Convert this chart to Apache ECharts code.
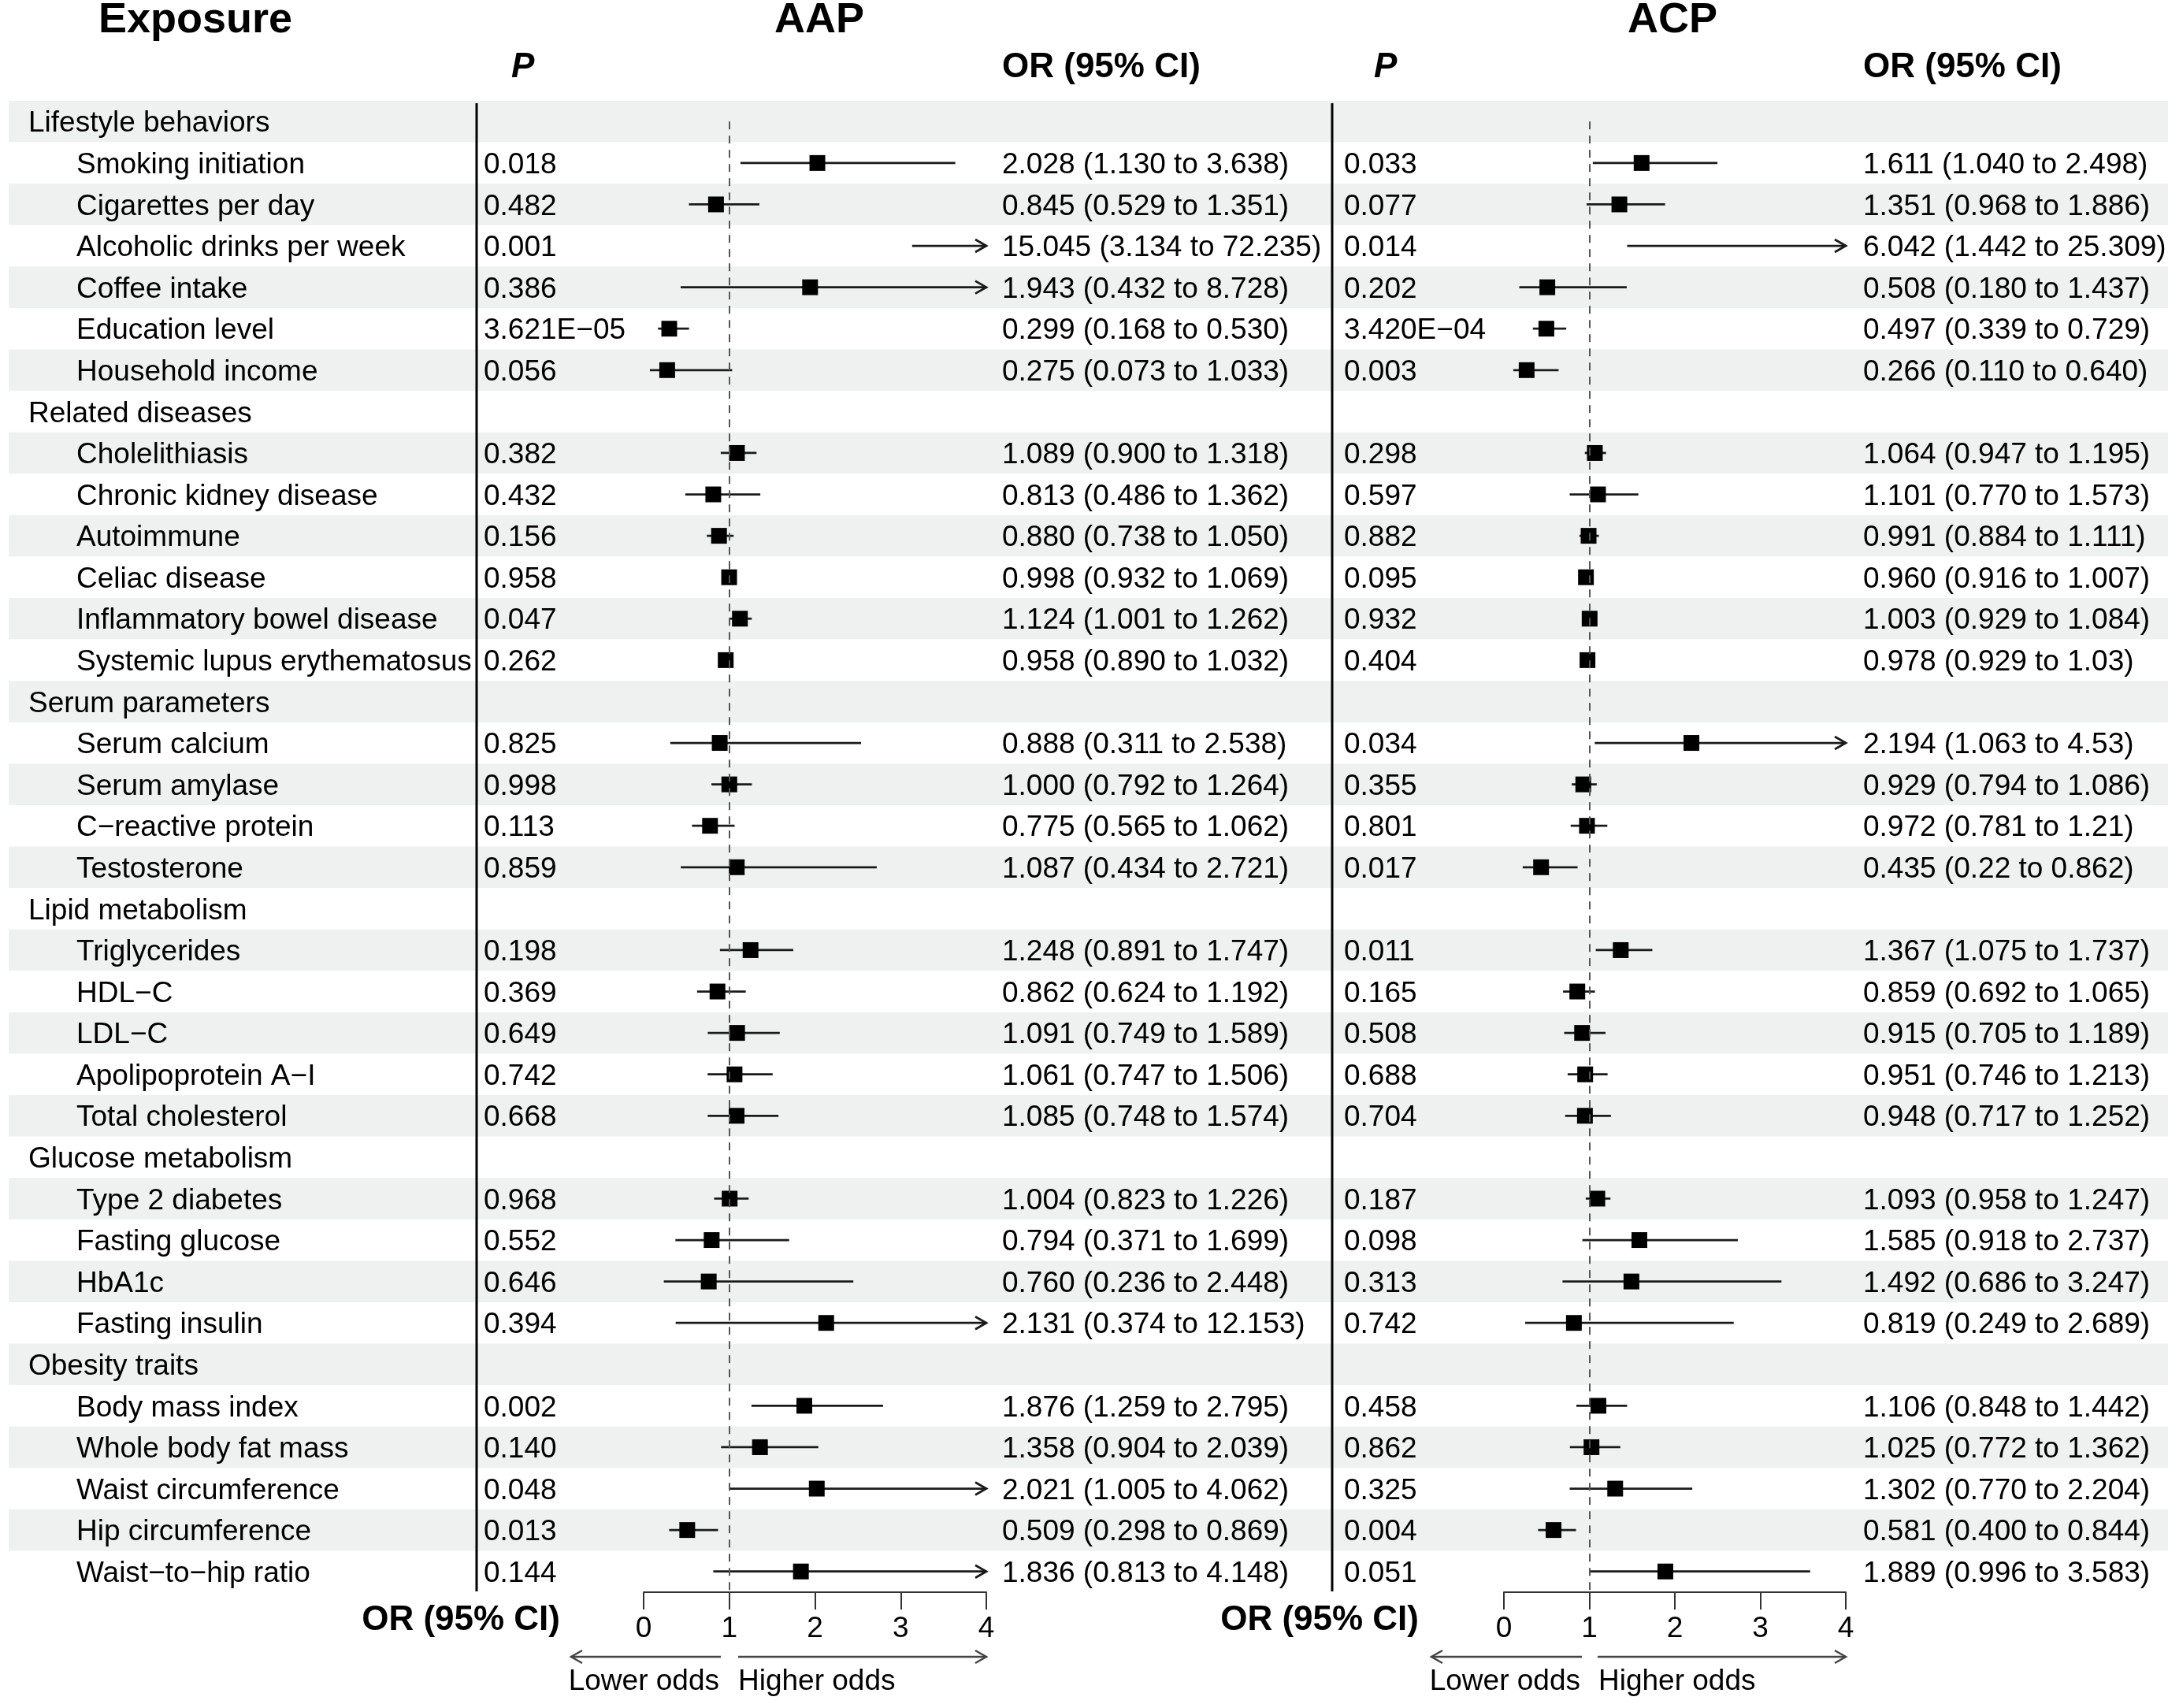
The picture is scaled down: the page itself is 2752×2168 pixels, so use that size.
<!DOCTYPE html>
<html>
<head>
<meta charset="utf-8">
<title>AAP / ACP forest plot</title>
<script src="https://cdn.jsdelivr.net/npm/echarts@6/dist/echarts.min.js"></script>
<style>
  html, body { margin: 0; padding: 0; background: #fff; }
  #chart { width: 2752px; height: 2168px; }
</style>
</head>
<body>
<div id="chart"></div>
<script>
// ---- data ----
const groups = [
  "Lifestyle behaviors", "Related diseases", "Serum parameters",
  "Lipid metabolism", "Glucose metabolism", "Obesity traits"
];
const groupItems = [
  ["Smoking initiation", "Cigarettes per day", "Alcoholic drinks per week", "Coffee intake", "Education level", "Household income"],
  ["Cholelithiasis", "Chronic kidney disease", "Autoimmune", "Celiac disease", "Inflammatory bowel disease", "Systemic lupus erythematosus"],
  ["Serum calcium", "Serum amylase", "C\u2212reactive protein", "Testosterone"],
  ["Triglycerides", "HDL\u2212C", "LDL\u2212C", "Apolipoprotein A\u2212I", "Total cholesterol"],
  ["Type 2 diabetes", "Fasting glucose", "HbA1c", "Fasting insulin"],
  ["Body mass index", "Whole body fat mass", "Waist circumference", "Hip circumference", "Waist\u2212to\u2212hip ratio"]
];

// AAP
const aapP = ["0.018", "0.482", "0.001", "0.386", "3.621E\u221205", "0.056",
  "0.382", "0.432", "0.156", "0.958", "0.047", "0.262",
  "0.825", "0.998", "0.113", "0.859",
  "0.198", "0.369", "0.649", "0.742", "0.668",
  "0.968", "0.552", "0.646", "0.394",
  "0.002", "0.140", "0.048", "0.013", "0.144"];
const aapOR = ["2.028", "0.845", "15.045", "1.943", "0.299", "0.275",
  "1.089", "0.813", "0.880", "0.998", "1.124", "0.958",
  "0.888", "1.000", "0.775", "1.087",
  "1.248", "0.862", "1.091", "1.061", "1.085",
  "1.004", "0.794", "0.760", "2.131",
  "1.876", "1.358", "2.021", "0.509", "1.836"];
const aapLow = ["1.130", "0.529", "3.134", "0.432", "0.168", "0.073",
  "0.900", "0.486", "0.738", "0.932", "1.001", "0.890",
  "0.311", "0.792", "0.565", "0.434",
  "0.891", "0.624", "0.749", "0.747", "0.748",
  "0.823", "0.371", "0.236", "0.374",
  "1.259", "0.904", "1.005", "0.298", "0.813"];
const aapHigh = ["3.638", "1.351", "72.235", "8.728", "0.530", "1.033",
  "1.318", "1.362", "1.050", "1.069", "1.262", "1.032",
  "2.538", "1.264", "1.062", "2.721",
  "1.747", "1.192", "1.589", "1.506", "1.574",
  "1.226", "1.699", "2.448", "12.153",
  "2.795", "2.039", "4.062", "0.869", "4.148"];

// ACP
const acpP = ["0.033", "0.077", "0.014", "0.202", "3.420E\u221204", "0.003",
  "0.298", "0.597", "0.882", "0.095", "0.932", "0.404",
  "0.034", "0.355", "0.801", "0.017",
  "0.011", "0.165", "0.508", "0.688", "0.704",
  "0.187", "0.098", "0.313", "0.742",
  "0.458", "0.862", "0.325", "0.004", "0.051"];
const acpOR = ["1.611", "1.351", "6.042", "0.508", "0.497", "0.266",
  "1.064", "1.101", "0.991", "0.960", "1.003", "0.978",
  "2.194", "0.929", "0.972", "0.435",
  "1.367", "0.859", "0.915", "0.951", "0.948",
  "1.093", "1.585", "1.492", "0.819",
  "1.106", "1.025", "1.302", "0.581", "1.889"];
const acpLow = ["1.040", "0.968", "1.442", "0.180", "0.339", "0.110",
  "0.947", "0.770", "0.884", "0.916", "0.929", "0.929",
  "1.063", "0.794", "0.781", "0.22",
  "1.075", "0.692", "0.705", "0.746", "0.717",
  "0.958", "0.918", "0.686", "0.249",
  "0.848", "0.772", "0.770", "0.400", "0.996"];
const acpHigh = ["2.498", "1.886", "25.309", "1.437", "0.729", "0.640",
  "1.195", "1.573", "1.111", "1.007", "1.084", "1.03",
  "4.53", "1.086", "1.21", "0.862",
  "1.737", "1.065", "1.189", "1.213", "1.252",
  "1.247", "2.737", "3.247", "2.689",
  "1.442", "1.362", "2.204", "0.844", "3.583"];

const xTicks = [0, 1, 2, 3, 4];

// ---- layout ----
const FONT = "'Liberation Sans', Arial, Helvetica, sans-serif";
const TOP = 128, HEIGHT = 1893;
const TEXT_DY = 3;
const COL = {
  group: 36, item: 97,
  aapP: 614, aapOR: 1272,
  acpP: 1706, acpOR: 2365
};
const xMax = xTicks[xTicks.length - 1];

// flatten into table rows
const rows = [];
let k = 0;
groups.forEach((g, gi) => {
  rows.push({ label: g, header: true });
  groupItems[gi].forEach(name => rows.push({ label: name, header: false, idx: k++ }));
});
const nRows = rows.length;

function forestData(or, lo, hi) {
  const out = [];
  rows.forEach((r, i) => {
    if (!r.header) out.push([parseFloat(or[r.idx]), parseFloat(lo[r.idx]), parseFloat(hi[r.idx]), i]);
  });
  return out;
}

function txt(x, y, s) {
  return {
    type: "text", x: x, y: y + TEXT_DY,
    style: { text: s, fill: "#000", fontSize: 37, fontFamily: FONT, align: "left", verticalAlign: "middle" }
  };
}

function bandItem(params, api) {
  const i = api.value(1);
  if (i % 2 !== 0) return null;
  const cs = params.coordSys;
  const y = api.coord([0, i])[1];
  const h = api.size([0, 1])[1];
  return { type: "rect", shape: { x: cs.x, y: y - h / 2, width: cs.width, height: h }, style: { fill: "#eff1f0" } };
}

function textItem(params, api) {
  const i = api.value(1);
  const r = rows[i];
  const y = api.coord([0, i])[1];
  const kids = [txt(r.header ? COL.group : COL.item, y, r.label)];
  if (!r.header) {
    const j = r.idx;
    kids.push(txt(COL.aapP, y, aapP[j]));
    kids.push(txt(COL.aapOR, y, aapOR[j] + " (" + aapLow[j] + " to " + aapHigh[j] + ")"));
    kids.push(txt(COL.acpP, y, acpP[j]));
    kids.push(txt(COL.acpOR, y, acpOR[j] + " (" + acpLow[j] + " to " + acpHigh[j] + ")"));
  }
  return { type: "group", children: kids };
}

function forestItem(params, api) {
  const or = api.value(0), lo = api.value(1), hi = api.value(2), row = api.value(3);
  const p0 = api.coord([lo, row]);
  const p1 = api.coord([Math.min(hi, xMax), row]);
  const pc = api.coord([or, row]);
  const ink = "#1a1a1a";
  const kids = [{
    type: "line",
    shape: { x1: p0[0], y1: p0[1], x2: p1[0], y2: p1[1] },
    style: { stroke: ink, lineWidth: 2.8 }
  }];
  if (hi > xMax) {
    kids.push({
      type: "polyline",
      shape: { points: [[p1[0] - 14, p1[1] - 8], [p1[0], p1[1]], [p1[0] - 14, p1[1] + 8]] },
      style: { stroke: ink, lineWidth: 2.8, fill: "none" }
    });
  }
  if (or <= xMax) {
    kids.push({ type: "rect", shape: { x: pc[0] - 10, y: pc[1] - 10, width: 20, height: 20 }, style: { fill: "#000" } });
  }
  return { type: "group", children: kids };
}

function yAxisRow(gridIndex) {
  return { gridIndex: gridIndex, type: "value", min: -0.5, max: nRows - 0.5, inverse: true, show: false };
}

function xAxisOR(gridIndex) {
  return {
    gridIndex: gridIndex, type: "value", position: "bottom", min: 0, max: xMax, interval: 1,
    axisLine: { show: true, onZero: false, lineStyle: { color: "#333", width: 2 } },
    axisTick: { show: true, length: 22, lineStyle: { color: "#333", width: 2 } },
    axisLabel: { color: "#000", fontSize: 37, fontFamily: FONT, margin: 28 },
    splitLine: { show: false }
  };
}

const refLine = {
  silent: true, symbol: ["none", "none"], label: { show: false },
  lineStyle: { type: [10, 8], color: "#555", width: 2 },
  data: [[{ coord: [1, 0] }, { coord: [1, nRows - 0.5] }]]
};

const rowIdx = rows.map((r, i) => [0.5, i]);

function arrowPair(x0, x1, xa, xb, y) {
  // left arrow x1 -> x0, right arrow xa -> xb
  const s = { stroke: "#444", lineWidth: 2.5, fill: "none" };
  return [
    { type: "line", shape: { x1: x1, y1: y, x2: x0, y2: y }, style: s },
    { type: "polyline", shape: { points: [[x0 + 14, y - 8], [x0, y], [x0 + 14, y + 8]] }, style: s },
    { type: "line", shape: { x1: xa, y1: y, x2: xb, y2: y }, style: s },
    { type: "polyline", shape: { points: [[xb - 14, y - 8], [xb, y], [xb - 14, y + 8]] }, style: s }
  ];
}

const bold = (size, extra) => Object.assign({ fill: "#000", fontSize: size, fontWeight: "bold", fontFamily: FONT, verticalAlign: "middle" }, extra || {});
const plain = (align) => ({ fill: "#000", fontSize: 37, fontFamily: FONT, align: align, verticalAlign: "middle" });

const graphics = [
  { type: "text", x: 248, y: 26, style: Object.assign({ text: "Exposure" }, bold(54, { align: "center" })) },
  { type: "text", x: 1040, y: 26, style: Object.assign({ text: "AAP" }, bold(54, { align: "center" })) },
  { type: "text", x: 2123, y: 26, style: Object.assign({ text: "ACP" }, bold(54, { align: "center" })) },
  { type: "text", x: 649, y: 86, style: Object.assign({ text: "P" }, bold(44, { align: "left", fontStyle: "italic" })) },
  { type: "text", x: 1744, y: 86, style: Object.assign({ text: "P" }, bold(44, { align: "left", fontStyle: "italic" })) },
  { type: "text", x: 1272, y: 86, style: Object.assign({ text: "OR (95% CI)" }, bold(44, { align: "left" })) },
  { type: "text", x: 2365, y: 86, style: Object.assign({ text: "OR (95% CI)" }, bold(44, { align: "left" })) },
  { type: "text", x: 711, y: 2057, style: Object.assign({ text: "OR (95% CI)" }, bold(44, { align: "right" })) },
  { type: "text", x: 1801, y: 2057, style: Object.assign({ text: "OR (95% CI)" }, bold(44, { align: "right" })) },
  { type: "line", shape: { x1: 605, y1: 131, x2: 605, y2: 2020 }, style: { stroke: "#000", lineWidth: 3 } },
  { type: "line", shape: { x1: 1691, y1: 131, x2: 1691, y2: 2020 }, style: { stroke: "#000", lineWidth: 3 } },
  { type: "text", x: 913, y: 2135, style: Object.assign({ text: "Lower odds" }, plain("right")) },
  { type: "text", x: 937, y: 2135, style: Object.assign({ text: "Higher odds" }, plain("left")) },
  { type: "text", x: 2006, y: 2135, style: Object.assign({ text: "Lower odds" }, plain("right")) },
  { type: "text", x: 2029, y: 2135, style: Object.assign({ text: "Higher odds" }, plain("left")) }
].concat(arrowPair(725, 915, 937, 1252, 2103), arrowPair(1817, 2008, 2028, 2343, 2103))
 .map(g => Object.assign({ z: 50 }, g));

const chart = echarts.init(document.getElementById("chart"), null, { renderer: "canvas" });

const option = {
  backgroundColor: "#fff",
  animation: false,
  grid: [
    { left: 11, right: 0, top: TOP, height: HEIGHT },
    { left: 817, width: 435, top: TOP, height: HEIGHT },
    { left: 1909, width: 434, top: TOP, height: HEIGHT }
  ],
  xAxis: [
    { gridIndex: 0, type: "value", min: 0, max: 1, show: false },
    xAxisOR(1),
    xAxisOR(2)
  ],
  yAxis: [yAxisRow(0), yAxisRow(1), yAxisRow(2)],
  graphic: graphics,
  series: [
    { type: "custom", name: "bands", xAxisIndex: 0, yAxisIndex: 0, z: 0, silent: true,
      encode: { x: 0, y: 1 }, renderItem: bandItem, data: rowIdx },
    { type: "custom", name: "table", xAxisIndex: 0, yAxisIndex: 0, z: 3, silent: true,
      encode: { x: 0, y: 1 }, renderItem: textItem, data: rowIdx },
    { type: "custom", name: "AAP", xAxisIndex: 1, yAxisIndex: 1, z: 4,
      encode: { x: 0, y: 3 }, renderItem: forestItem,
      data: forestData(aapOR, aapLow, aapHigh), markLine: refLine },
    { type: "custom", name: "ACP", xAxisIndex: 2, yAxisIndex: 2, z: 4,
      encode: { x: 0, y: 3 }, renderItem: forestItem,
      data: forestData(acpOR, acpLow, acpHigh), markLine: refLine }
  ]
};

chart.setOption(option);
</script>
</body>
</html>
